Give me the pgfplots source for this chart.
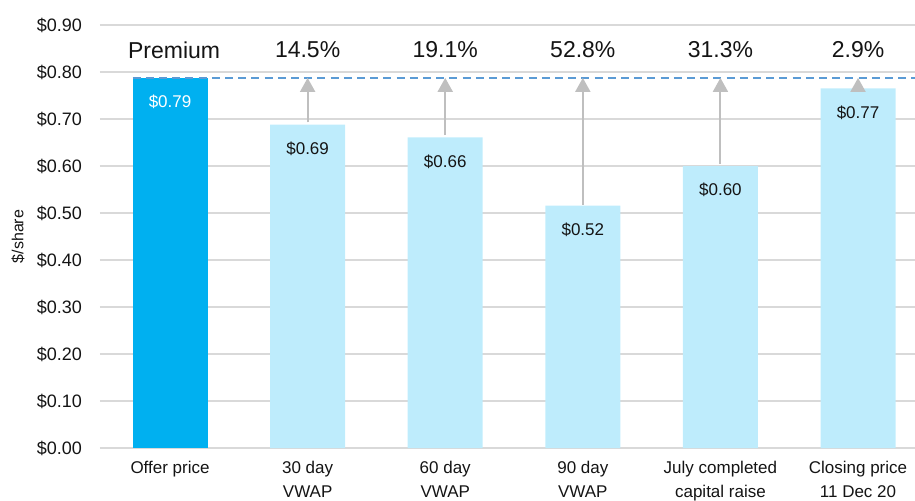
\documentclass[border=0pt]{standalone}
\usepackage{fontspec}
\setmainfont{Liberation Sans}
\usepackage{pgfplots}
\pgfplotsset{compat=1.18}
\usetikzlibrary{arrows.meta}
\definecolor{offer}{RGB}{0,176,240}
\definecolor{lightb}{RGB}{190,236,252}
\definecolor{gridc}{RGB}{217,217,217}
\definecolor{dashc}{RGB}{91,155,213}
\definecolor{arr}{RGB}{191,191,191}
\definecolor{txt}{RGB}{20,20,20}
\begin{document}
\begin{tikzpicture}
\useasboundingbox (-50pt,-26pt) rectangle (407.5pt,224pt);
\clip (-50pt,-26pt) rectangle (407.5pt,224pt);
\begin{axis}[
  scale only axis, width=407.5pt, height=211.5pt,
  at={(0,0)}, anchor=south west,
  xmin=-0.509, xmax=5.414, ymin=0, ymax=0.9,
  ytick={0,0.1,0.2,0.3,0.4,0.5,0.6,0.7,0.8,0.9},
  yticklabel={\$\pgfmathprintnumber[fixed,fixed zerofill,precision=2]{\tick}},
  /pgf/number format/assume math mode=true,
  ymajorgrids, major grid style={gridc, line width=1pt},
  axis line style={draw=none}, major tick length=0pt,
  xtick={0,1,2,3,4,5},
  xticklabels={Offer price, 30 day\\VWAP, 60 day\\VWAP, 90 day\\VWAP, July completed\\capital raise, Closing price\\11 Dec 20},
  xticklabel style={align=center, font=\fontsize{8.5}{12}\selectfont, text=txt, yshift=-3pt},
  yticklabel style={font=\fontsize{9}{10}\selectfont, text=txt, xshift=-5.5pt},
  ylabel={\$/share},
  ylabel style={at={(rel axis cs:0,0.5)}, anchor=center, yshift=41pt, font=\fontsize{8}{10}\selectfont, text=txt},
  ybar, bar width=37.5pt, bar shift=0pt,
  clip=false,
]
\addplot[fill=offer, draw=none,
  nodes near coords, point meta=explicit symbolic,
  every node near coord/.append style={anchor=center, yshift=-12pt, text=white, font=\fontsize{8.5}{10}\selectfont}]
  coordinates {(0,0.7875) [\$0.79]};
\addplot[fill=lightb, draw=none,
  nodes near coords, point meta=explicit symbolic,
  every node near coord/.append style={anchor=center, yshift=-12pt, text=txt, font=\fontsize{8.5}{10}\selectfont}]
  coordinates {(1,0.688) [\$0.69] (2,0.661) [\$0.66] (3,0.516) [\$0.52] (4,0.600) [\$0.60] (5,0.765) [\$0.77]};
\addplot[sharp plot, dashc, line width=0.8pt, dash pattern=on 4pt off 2.6pt] coordinates {(-0.272,0.7875) (5.6,0.7875)};
\addplot[sharp plot, arr, line width=1pt, -{Triangle[width=7.5pt,length=7pt]}] coordinates {(1,0.693) (1,0.7875)};
\addplot[sharp plot, arr, line width=1pt, -{Triangle[width=7.5pt,length=7pt]}] coordinates {(2,0.666) (2,0.7875)};
\addplot[sharp plot, arr, line width=1pt, -{Triangle[width=7.5pt,length=7pt]}] coordinates {(3,0.518) (3,0.7875)};
\addplot[sharp plot, arr, line width=1pt, -{Triangle[width=7.5pt,length=7pt]}] coordinates {(4,0.605) (4,0.7875)};
\addplot[sharp plot, arr, line width=1pt, -{Triangle[width=7.5pt,length=7pt]}] coordinates {(5,0.766) (5,0.7875)};
\node[font=\fontsize{11.5}{12}\selectfont, text=txt] at (axis cs:0.03,0.847) {Premium};
\node[font=\fontsize{11.5}{12}\selectfont, text=txt] at (axis cs:1,0.847) {14.5\%};
\node[font=\fontsize{11.5}{12}\selectfont, text=txt] at (axis cs:2,0.847) {19.1\%};
\node[font=\fontsize{11.5}{12}\selectfont, text=txt] at (axis cs:3,0.847) {52.8\%};
\node[font=\fontsize{11.5}{12}\selectfont, text=txt] at (axis cs:4,0.847) {31.3\%};
\node[font=\fontsize{11.5}{12}\selectfont, text=txt] at (axis cs:5,0.847) {2.9\%};
\end{axis}
\end{tikzpicture}
\end{document}
